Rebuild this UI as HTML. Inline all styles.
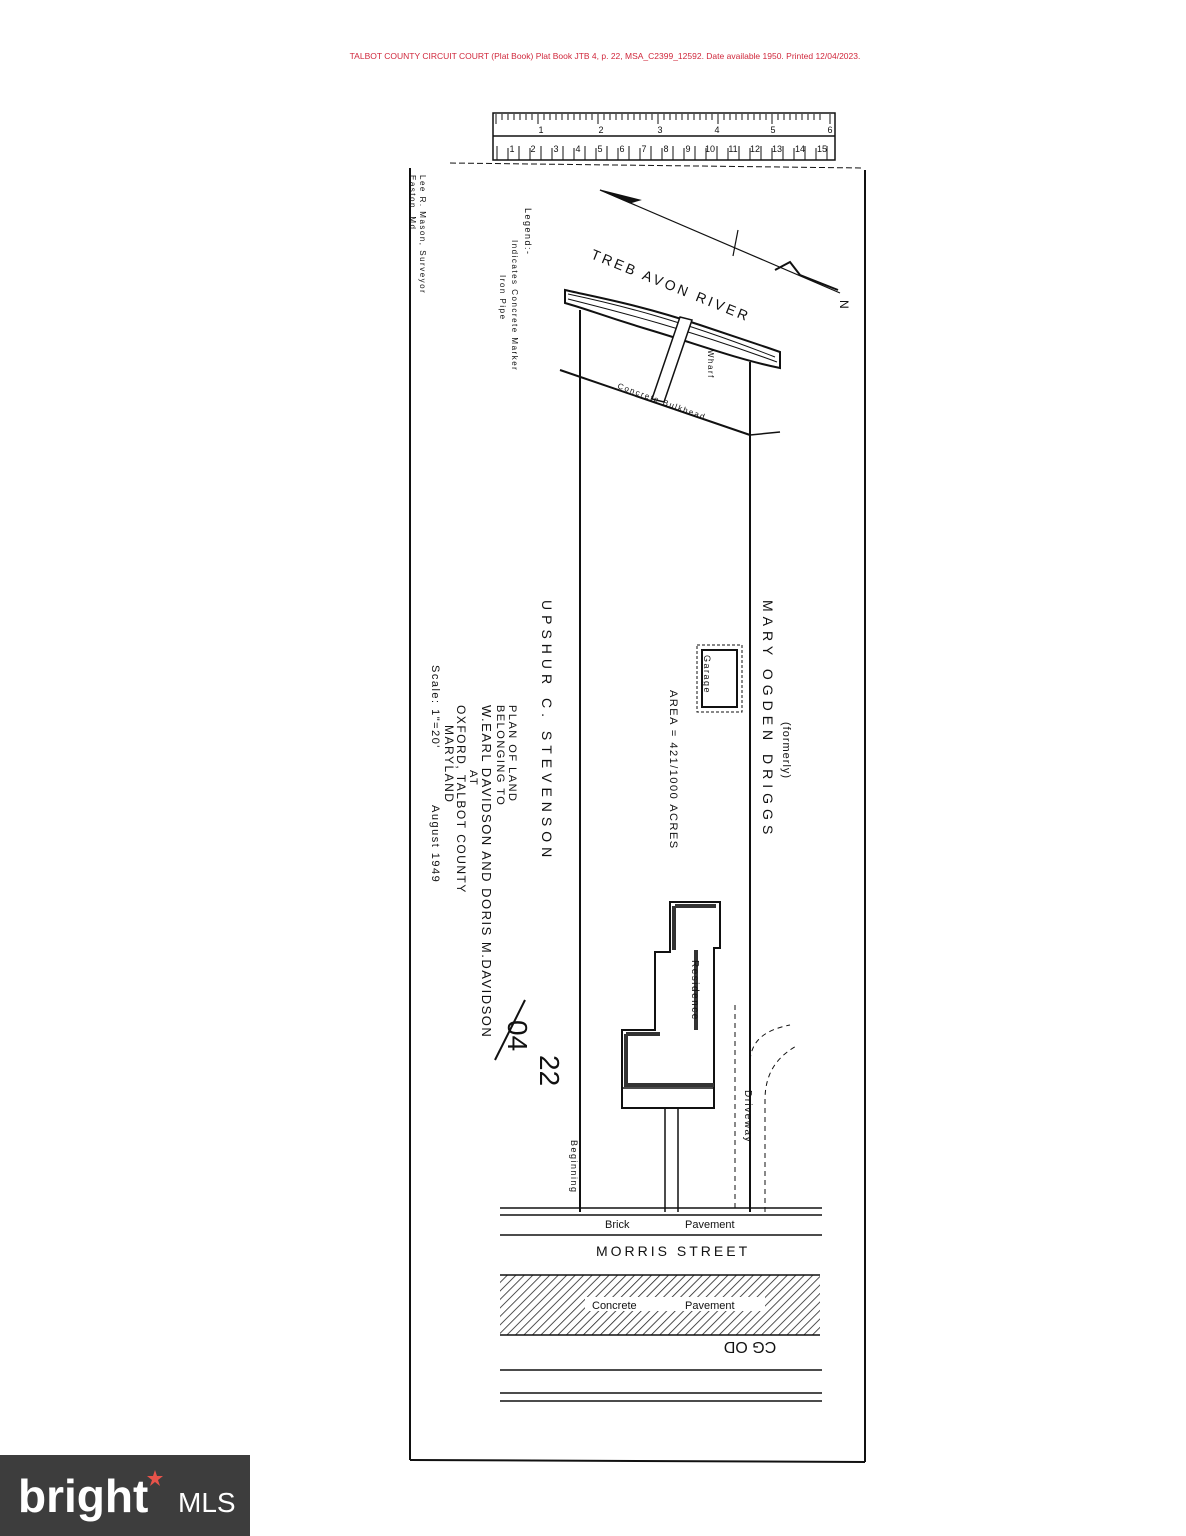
<!DOCTYPE html>
<html><head><meta charset="utf-8"><style>
html,body{margin:0;padding:0;background:#fff;}
svg{display:block;}
text{font-family:"Liberation Sans",sans-serif;fill:#111;}
</style></head><body>
<svg width="1186" height="1536" viewBox="0 0 1186 1536" xmlns="http://www.w3.org/2000/svg">
<defs>
<pattern id="h" width="6" height="6" patternUnits="userSpaceOnUse" patternTransform="rotate(45)">
<line x1="0" y1="0" x2="0" y2="6" stroke="#222" stroke-width="1.6"/></pattern>
</defs>
<text x="605" y="59" font-size="8.5" text-anchor="middle" style="fill:#d0283c">TALBOT COUNTY CIRCUIT COURT (Plat Book) Plat Book JTB 4, p. 22, MSA_C2399_12592. Date available 1950. Printed 12/04/2023.</text>
<rect x="493" y="113" width="342" height="47" fill="#fff" stroke="#111" stroke-width="1.5"/>
<line x1="493" y1="136" x2="835" y2="136" stroke="#111" stroke-width="1.5"/>
<g stroke="#111" stroke-width="1">
<path d="M496 114v10M502 114v6M508 114v6M514 114v6M520 114v6M526 114v6M532 114v6M538 114v10M544 114v6M550 114v6M556 114v6M562 114v6M568 114v6M574 114v6M580 114v6M586 114v6M592 114v6M598 114v10M604 114v6M610 114v6M616 114v6M622 114v6M628 114v6M634 114v6M640 114v6M646 114v6M652 114v6M658 114v10M664 114v6M670 114v6M676 114v6M682 114v6M688 114v6M694 114v6M700 114v6M706 114v6M712 114v6M718 114v10M724 114v6M730 114v6M736 114v6M742 114v6M748 114v6M754 114v6M760 114v6M766 114v6M772 114v10M778 114v6M784 114v6M790 114v6M796 114v6M802 114v6M808 114v6M814 114v6M820 114v6M830 114v10"/>
<path d="M497 160v-14M508 160v-12M519 160v-14M530 160v-12M541 160v-14M552 160v-12M563 160v-14M574 160v-12M585 160v-14M596 160v-12M607 160v-14M618 160v-12M629 160v-14M640 160v-12M651 160v-14M662 160v-12M673 160v-14M684 160v-12M695 160v-14M706 160v-12M717 160v-14M728 160v-12M739 160v-14M750 160v-12M761 160v-14M772 160v-12M783 160v-14M794 160v-12M805 160v-14M816 160v-12M827 160v-14"/>
</g>
<g font-size="9" text-anchor="middle"><text x="541" y="133">1</text><text x="601" y="133">2</text><text x="660" y="133">3</text><text x="717" y="133">4</text><text x="773" y="133">5</text><text x="830" y="133">6</text>
<text x="512" y="152">1</text><text x="533" y="152">2</text><text x="556" y="152">3</text><text x="578" y="152">4</text><text x="600" y="152">5</text><text x="622" y="152">6</text><text x="644" y="152">7</text><text x="666" y="152">8</text><text x="688" y="152">9</text><text x="710" y="152">10</text><text x="733" y="152">11</text><text x="755" y="152">12</text><text x="777" y="152">13</text><text x="800" y="152">14</text><text x="822" y="152">15</text></g>
<g stroke="#111" fill="none">
<line x1="450" y1="163" x2="862" y2="168" stroke-width="1" stroke-dasharray="6 3"/>
<line x1="410" y1="168" x2="410" y2="1460" stroke-width="2"/>
<line x1="865" y1="170" x2="865" y2="1462" stroke-width="2"/>
<line x1="410" y1="1460" x2="865" y2="1462" stroke-width="2"/>
<line x1="600" y1="190" x2="840" y2="293" stroke-width="1.2"/>
<path d="M600 190 L640 200 L630 203 Z" fill="#111"/>
<line x1="738" y1="230" x2="733" y2="256" stroke-width="1.2"/>
<path d="M775 270 L790 262 L800 275 L838 290" stroke-width="2"/>
<path d="M565 290 C600 298,640 305,700 325 S760 345,780 352 L780 368 C740 360,700 345,650 330 S590 310,565 303 Z" fill="#fff" stroke-width="2"/>
<path d="M568 294 C620 305,680 320,775 357 M568 299 C620 312,690 330,777 362" stroke-width="1"/>
<path d="M680 317 L692 320 L664 402 L652 399 Z" fill="#fff" stroke-width="1.5"/>
<line x1="560" y1="370" x2="750" y2="435" stroke-width="2"/>
<line x1="750" y1="435" x2="780" y2="432" stroke-width="1.5"/>
<line x1="580" y1="310" x2="580" y2="1212" stroke-width="2"/>
<line x1="750" y1="362" x2="750" y2="1212" stroke-width="2"/>
<rect x="697" y="645" width="45" height="67" stroke-width="1" stroke-dasharray="3 2"/>
<rect x="702" y="650" width="35" height="57" stroke-width="2"/>
<path d="M670 902 L720 902 L720 948 L714 948 L714 1108 L622 1108 L622 1030 L655 1030 L655 952 L670 952 Z" stroke-width="2"/>
<path d="M675 906 L716 906 M674 906 L674 950 M696 950 L696 1030 M626 1034 L660 1034 M626 1034 L626 1085 L714 1085" stroke-width="4" stroke="#333"/>
<line x1="622" y1="1088" x2="714" y2="1088" stroke-width="1.5"/>
<line x1="665" y1="1108" x2="665" y2="1212" stroke-width="1.5"/>
<line x1="678" y1="1108" x2="678" y2="1212" stroke-width="1.5"/>
<line x1="735" y1="1005" x2="735" y2="1210" stroke-width="1" stroke-dasharray="5 4"/>
<path d="M765 1212 L765 1100 C765 1070,780 1055,798 1045" stroke-width="1" stroke-dasharray="5 4"/>
<path d="M750 1060 C752 1040,765 1030,790 1025" stroke-width="1" stroke-dasharray="5 4"/>
<line x1="500" y1="1208" x2="822" y2="1208" stroke-width="1.5"/>
<line x1="500" y1="1215" x2="822" y2="1215" stroke-width="1.5"/>
<line x1="500" y1="1235" x2="822" y2="1235" stroke-width="1.5"/>
<rect x="500" y="1275" width="320" height="60" fill="url(#h)" stroke="none"/>
<line x1="500" y1="1275" x2="820" y2="1275" stroke-width="1.5"/>
<line x1="500" y1="1335" x2="820" y2="1335" stroke-width="1.5"/>
<line x1="500" y1="1370" x2="822" y2="1370" stroke-width="1.5"/>
<line x1="500" y1="1393" x2="822" y2="1393" stroke-width="1.5"/>
<line x1="500" y1="1401" x2="822" y2="1401" stroke-width="1.5"/>
</g>
<rect x="585" y="1297" width="180" height="14" fill="#fff"/>
<text x="592" y="1309" font-size="11">Concrete</text><text x="685" y="1309" font-size="11">Pavement</text>
<text x="605" y="1228" font-size="11">Brick</text><text x="685" y="1228" font-size="11">Pavement</text>
<text x="596" y="1256" font-size="14" letter-spacing="3">MORRIS STREET</text>
<text font-size="16" text-anchor="middle" transform="translate(750,1342) rotate(180)">CG OD</text>
<text x="590" y="258" font-size="14" letter-spacing="3" transform="rotate(22 590 258)">TREB AVON RIVER</text>
<text x="840" y="300" font-size="12" transform="rotate(90 840 300)">N</text>
<g font-size="14" letter-spacing="5">
<text transform="translate(542,600) rotate(90)">UPSHUR   C.   STEVENSON</text>
<text transform="translate(763,600) rotate(90)">MARY        OGDEN       DRIGGS</text>
<text font-size="11" letter-spacing="1" transform="translate(783,722) rotate(90)">(formerly)</text>
</g>
<g font-size="11" letter-spacing="1.5">
<text transform="translate(509,705) rotate(90)">PLAN OF LAND</text>
<text transform="translate(497,705) rotate(90)">BELONGING TO</text>
<text font-size="13" transform="translate(482,705) rotate(90)">W.EARL DAVIDSON AND DORIS M.DAVIDSON</text>
<text transform="translate(470,770) rotate(90)">AT</text>
<text font-size="12" transform="translate(457,705) rotate(90)">OXFORD, TALBOT COUNTY</text>
<text font-size="12" transform="translate(445,725) rotate(90)">MARYLAND</text>
<text transform="translate(432,665) rotate(90)">Scale: 1"=20'</text>
<text transform="translate(432,805) rotate(90)">August 1949</text>
<text transform="translate(670,690) rotate(90)">AREA = 421/1000 ACRES</text>
<text font-size="9" transform="translate(704,655) rotate(90)">Garage</text>
<text font-size="10" transform="translate(692,960) rotate(90)">Residence</text>
<text font-size="10" transform="translate(745,1090) rotate(90)">Driveway</text>
<text font-size="9" transform="translate(571,1140) rotate(90)">Beginning</text>
<text font-size="8" transform="translate(708,350) rotate(90)">Wharf</text>
<text font-size="8" transform="translate(617,388) rotate(20)">Concrete Bulkhead</text>
<text font-size="9" transform="translate(525,208) rotate(90)">Legend:-</text>
<text font-size="8" transform="translate(512,240) rotate(90)">Indicates Concrete Marker</text>
<text font-size="8" transform="translate(500,275) rotate(90)">Iron Pipe</text>
<text font-size="8" transform="translate(420,175) rotate(90)">Lee R. Mason, Surveyor</text>
<text font-size="8" transform="translate(410,175) rotate(90)">Easton, Md.</text>
</g>
<text x="508" y="1020" font-size="28" transform="rotate(90 508 1020)">04</text>
<text x="540" y="1055" font-size="28" transform="rotate(90 540 1055)">22</text>
<line x1="495" y1="1060" x2="525" y2="1000" stroke="#111" stroke-width="2"/>
<rect x="0" y="1455" width="250" height="81" fill="#3d3d3d"/>
<text x="18" y="1512" font-size="46" style="fill:#fff" font-weight="bold">bright</text>
<text x="178" y="1512" font-size="28" style="fill:#fff">MLS</text>
<path d="M155 1470 l2 6 6 0 -5 4 2 6 -5 -4 -5 4 2 -6 -5 -4 6 0z" fill="#e8534a"/>
</svg>
</body></html>
